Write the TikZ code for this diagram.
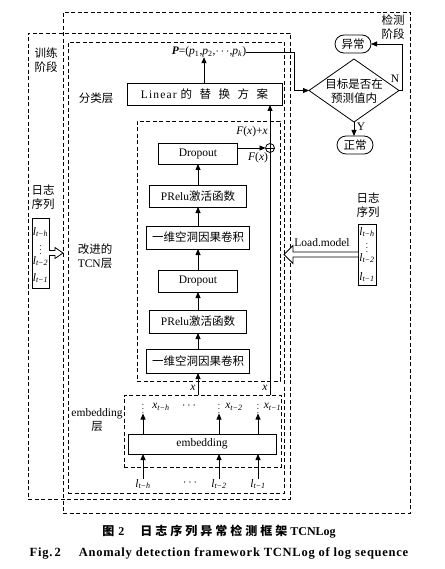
\documentclass[tikz,border=0pt]{standalone}
\usepackage{fontspec}
\setmainfont{Liberation Serif}
\newfontfamily\cjk{Noto Sans CJK SC}
\newfontfamily\cjkcap[LetterSpace=25]{Noto Sans CJK SC}
\newfontfamily\latcap[LetterSpace=6]{Liberation Serif}
\newfontfamily\latwide[LetterSpace=10]{Liberation Serif}
\usetikzlibrary{arrows.meta,shapes.geometric,shapes.misc,calc}
\newcommand\sbs[2]{\textit{#1}\textsubscript{\textit{#2}}}
\newcommand\wsp{\hspace{7.5pt}}
\begin{document}
\begin{tikzpicture}[x=1pt,y=-1pt,
  every node/.style={inner sep=0pt, outer sep=0pt},
  font=\fontsize{11.5}{14}\selectfont,
  cj/.style={font=\fontsize{11.5}{14}\selectfont\cjk},
  blk/.style={draw, line width=0.8pt, minimum height=22pt},
  dbox/.style={draw, dash pattern=on 4pt off 2.5pt, line width=0.9pt},
  arr/.style={line width=0.8pt, -{Triangle[length=6pt,width=5pt]}},
  rnd/.style={draw, rounded rectangle, minimum width=36pt, minimum height=18pt, line width=0.8pt, font=\fontsize{11.5}{14}\selectfont\cjk},
  vd/.style={font=\fontsize{9}{10}\selectfont},
  hollow/.style={draw, line width=0.8pt, fill=white, line join=miter}]
\fill[white] (0,0) rectangle (444,569);
\useasboundingbox (0,0) rectangle (444,569);

% dashed frames
\node[dbox, minimum width=347pt, minimum height=501pt] (det) at (236.5,262.5) {};
\node[dbox, minimum width=262pt, minimum height=466pt] (train) at (159,266) {};
\node[dbox, minimum width=216pt, minimum height=451pt] (cls) at (176,267.5) {};
\node[dbox, minimum width=143pt, minimum height=260pt] (tcn) at (208.5,251) {};
\node[dbox, minimum width=157pt, minimum height=72pt] (emb) at (202.5,431) {};

% stage and layer labels
\node[cj, align=center] (tl) at (46,60) {训练\\阶段};
\node[cj, align=center] (dl) at (393,27) {检测\\阶段};
\node[cj] (clsl) at (96,98) {分类层};
\node[align=center] (tcnl) at (95,256) {{\cjk 改进的}\\TCN{\cjk 层}};
\node[align=center] (embl) at (97,420) {embedding\\{\cjk 层}};

% classification
\node (P) at (209,52) {\textbf{\textit{P}}=(\textit{p}\textsubscript{1},\textit{p}\textsubscript{2},$\cdots$,\textit{p}\textsubscript{\textit{k}})};
\node[blk, minimum width=155pt] (lin) at (204.5,94) {{\latwide Linear}\hspace{4pt}{\cjk 的\wsp 替\wsp 换\wsp 方\wsp 案}};
\draw[arr] (lin.north -| 204,0) -- (P.south -| 204,0);

% TCN blocks
\node[blk, minimum width=79pt, minimum height=21pt] (d1) at (198,153.5) {Dropout};
\node[blk, minimum width=97pt] (p1) at (198,196) {PRelu{\cjk 激活函数}};
\node[blk, minimum width=103pt, minimum height=23pt] (c1) at (198,237.5) {\cjk 一维空洞因果卷积};
\node[blk, minimum width=79pt] (d2) at (198,281) {Dropout};
\node[blk, minimum width=97pt, minimum height=23pt] (p2) at (198,321.5) {PRelu{\cjk 激活函数}};
\node[blk, minimum width=103pt, minimum height=24pt] (c2) at (198,361) {\cjk 一维空洞因果卷积};
\draw[arr] (c2.north) -- (p2.south);
\draw[arr] (p2.north) -- (d2.south);
\draw[arr] (d2.north) -- (c1.south);
\draw[arr] (c1.north) -- (p1.south);
\draw[arr] (p1.north) -- (d1.south);

% residual
\node[draw, circle, minimum size=9pt, line width=0.8pt] (plus) at (270,148) {};
\draw[line width=0.7pt] (plus.north) -- (plus.south) (plus.west) -- (plus.east);
\draw[line width=0.9pt] (emb.north -| plus) -- (plus.south);
\draw[arr, line width=0.9pt] (plus.north) -- (plus |- lin.south);
\draw[arr] (d1.east |- plus) -- (plus.west);
\node (fxx) at (252,132) {\textit{F}(\textit{x})+\textit{x}};
\node (fx) at (258,158) {\textit{F}(\textit{x})};
\node (xr) at (265,388) {\textit{x}};
\draw[arr] (c2.south |- emb.north) -- (c2.south);
\node (xl) at (193,388) {\textit{x}};

% embedding
\node[blk, minimum width=148pt, minimum height=20pt] (eb) at (202,444) {embedding};
\node[vd] (v1) at (143,406) {$\vdots$};
\node[vd] (v2) at (219,406) {$\vdots$};
\node[vd] (v3) at (258,406) {$\vdots$};
\node (x1) at (161,407) {\sbs{x}{t−h}};
\node (xd) at (189,406) {$\cdots$};
\node (x2) at (234,407) {\sbs{x}{t−2}};
\node (x3) at (272.5,407) {\sbs{x}{t−1}};
\draw[arr] (eb.north -| v1) -- (v1.south);
\draw[arr] (eb.north -| v2) -- (v2.south);
\draw[arr] (eb.north -| v3) -- (v3.south);
\node (l1) at (143,484) {\sbs{l}{t−h}};
\node (ld) at (190,483) {$\cdots$};
\node (l2) at (219,484) {\sbs{l}{t−2}};
\node (l3) at (258,484) {\sbs{l}{t−1}};
\draw[arr] (l1.north) -- (l1.north |- eb.south);
\draw[arr] (l2.north) -- (l2.north |- eb.south);
\draw[arr] (l3.north) -- (l3.north |- eb.south);

% detection
\node[draw, diamond, minimum width=90pt, minimum height=63pt, line width=0.8pt] (dia) at (354,90.5) {};
\node[cj, align=center] (diat) at (354,91) {目标是否在\\预测值内};
\node[rnd] (abn) at (353,44) {异常};
\node[rnd] (nor) at (355,145) {正常};
\coordinate (pk) at (294,0);
\draw[arr] (P.east) -- (P.east -| pk) |- (dia.west);
\draw[arr] (dia.east) -- ++(3,0) |- (abn.east);
\draw[arr] (dia.south) -- (dia.south |- nor.north);
\node (ylab) at (361,127) {Y};
\node (nlab) at (395,79) {N};

% right log sequence
\node[cj, align=center] (rlt) at (368,205) {日志\\序列};
\node[draw, line width=0.8pt, minimum width=18pt, minimum height=61pt] (rlog) at (367,254.5) {};
\node (r1) at (367,232) {\sbs{l}{t−h}};
\node[vd] (r2) at (367,245) {$\vdots$};
\node (r3) at (367,258) {\sbs{l}{t−2}};
\node (r4) at (367,277) {\sbs{l}{t−1}};
\draw[hollow] ($(rlog.west)+(0,-2.5)$) -- ++(-65,0) -- ++(0,-6.5) -- ++(-9,9) -- ++(9,9) -- ++(0,-6.5) -- ($(rlog.west)+(0,2.5)$);
\node (lm) at (322,243) {Load.model};

% left log sequence
\node[cj, align=center] (llt) at (43,197) {日志\\序列};
\node[draw, line width=0.8pt, minimum width=17pt, minimum height=70pt] (llog) at (40.5,253) {};
\node (q1) at (40.5,232) {\sbs{l}{t−h}};
\node[vd] (q2) at (40.5,247) {$\vdots$};
\node (q3) at (40.5,261) {\sbs{l}{t−2}};
\node (q4) at (40.5,278) {\sbs{l}{t−1}};
\draw[hollow] ($(llog.east)+(0,-2.5)$) -- ++(6,0) -- ++(0,-3) -- ++(8,5.5) -- ++(-8,5.5) -- ++(0,-3) -- ($(llog.east)+(0,2.5)$);

% caption
\node (cap1) at (219,532) {\fontsize{12}{14}\selectfont\bfseries{\cjkcap 图}\hspace{4pt}2\hspace{16pt}{\cjkcap 日志序列异常检测框架} TCNLog};
\node (cap2) at (219,553) {\fontsize{12.5}{14}\selectfont\latcap\bfseries Fig.\,2\hspace{18pt}Anomaly detection framework TCNLog of log sequence};
\end{tikzpicture}
\end{document}
